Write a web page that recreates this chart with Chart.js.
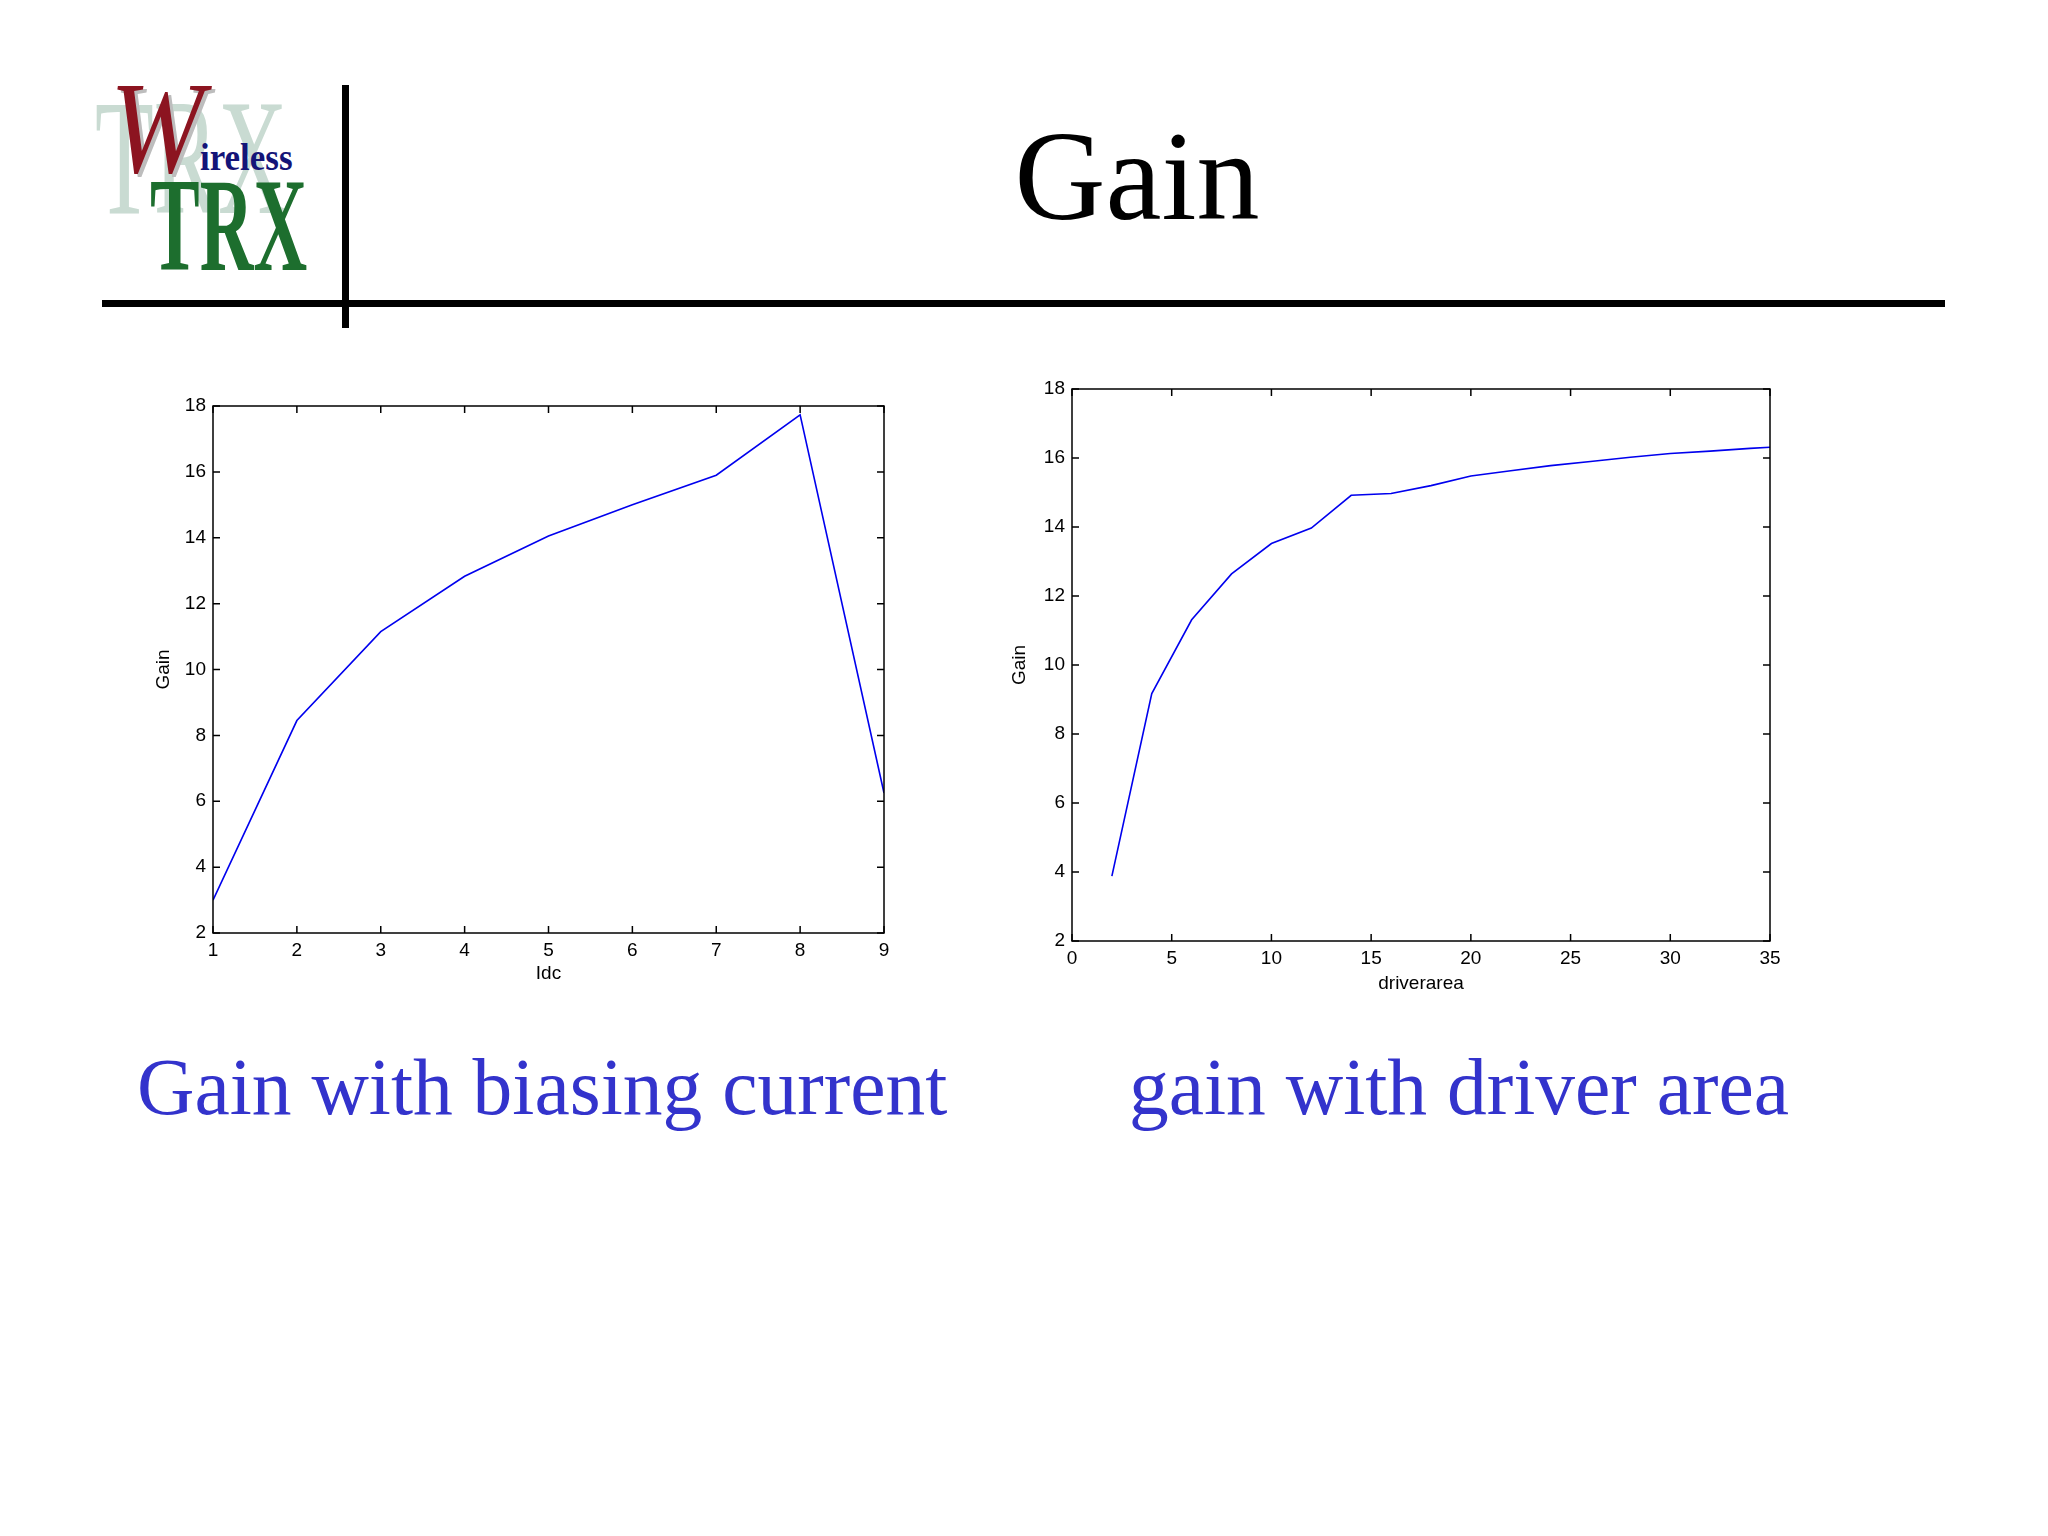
<!DOCTYPE html>
<html>
<head>
<meta charset="utf-8">
<script src="https://cdn.jsdelivr.net/npm/chart.js@4.4.1/dist/chart.umd.min.js"></script>
<style>
  body { margin: 0; background: #fff; }
  #page { position: relative; width: 2048px; height: 1536px; overflow: hidden; background: #fff; }
  .abs { position: absolute; white-space: nowrap; line-height: 1; font-family: "Liberation Serif", "Times New Roman", serif; }
  .bar { position: absolute; background: #000; }
  canvas { position: absolute; }
</style>
</head>
<body>
<div id="page">
  <!-- logo -->
  <div class="abs" style="left:95px;top:74px;font-size:166px;color:#c9dbd2;transform:scaleX(0.58);transform-origin:left top;">TRX</div>
  <div class="abs" style="left:110px;top:62px;font-size:132px;font-style:italic;color:#8c1420;text-shadow:4px 3px 0 #bdbdbd;transform:scaleX(0.85);transform-origin:left top;">W</div>
  <div class="abs" style="left:200px;top:138px;font-size:38px;font-weight:bold;color:#141478;transform:scaleX(0.92);transform-origin:left top;">ireless</div>
  <div class="abs" style="left:150px;top:159px;font-size:133px;font-weight:bold;color:#1d6e2e;transform:scaleX(0.56);transform-origin:left top;">TRX</div>

  <div class="bar" style="left:342px;top:85px;width:7px;height:243px;"></div>
  <div class="bar" style="left:102px;top:300px;width:1843px;height:7px;"></div>

  <div class="abs" style="left:1137px;top:114px;font-size:126px;color:#000;transform:translateX(-50%);">Gain</div>

  <canvas id="idcChart" width="800" height="640" style="left:113px;top:376px;"></canvas>
  <canvas id="areaChart" width="828" height="666" style="left:972px;top:359px;"></canvas>

  <div class="abs" style="left:137px;top:1048px;font-size:79.5px;color:#3333cc;">Gain with biasing current</div>
  <div class="abs" style="left:1129px;top:1048px;font-size:79.5px;color:#3333cc;">gain with driver area</div>
</div>

<script>
const idcValues = [1, 2, 3, 4, 5, 6, 7, 8, 9];
const idcGain = [3.0, 8.45, 11.15, 12.83, 14.05, 15.0, 15.9, 17.73, 6.25];

const areaValues = [2, 4, 6, 8, 10, 12, 14, 16, 18, 20, 22, 24, 26, 28, 30, 32, 34, 35];
const areaGain = [3.88, 9.17, 11.31, 12.64, 13.52, 13.97, 14.92, 14.97, 15.2, 15.48,
  15.63, 15.78, 15.9, 16.02, 16.13, 16.2, 16.28, 16.31];

const gainTicks = { min: 2, max: 18, step: 2 };

const tickFont = { family: "'Liberation Sans', Arial, sans-serif", size: 19 };

// matlab style box with inward ticks on all four sides
const matlabFrame = {
  id: "matlabFrame",
  afterDatasetsDraw(chart) {
    const { ctx, chartArea: a, scales } = chart;
    const len = 7;
    ctx.save();
    ctx.strokeStyle = "#000";
    ctx.lineWidth = 1.5;
    ctx.beginPath();
    scales.x.ticks.forEach((t) => {
      const px = scales.x.getPixelForValue(t.value);
      ctx.moveTo(px, a.bottom);
      ctx.lineTo(px, a.bottom - len);
      ctx.moveTo(px, a.top);
      ctx.lineTo(px, a.top + len);
    });
    scales.y.ticks.forEach((t) => {
      const py = scales.y.getPixelForValue(t.value);
      ctx.moveTo(a.left, py);
      ctx.lineTo(a.left + len, py);
      ctx.moveTo(a.right, py);
      ctx.lineTo(a.right - len, py);
    });
    ctx.stroke();
    ctx.strokeRect(a.left, a.top, a.right - a.left, a.bottom - a.top);
    ctx.restore();
  },
};

function makeGainChart(id, xs, ys, xRange, xTitle, pad) {
  const points = xs.map((x, i) => ({ x: x, y: ys[i] }));
  return new Chart(document.getElementById(id), {
    type: "scatter",
    data: {
      datasets: [
        {
          data: points,
          showLine: true,
          borderColor: "#0000ee",
          borderWidth: 1.6,
          pointRadius: 0,
          tension: 0,
        },
      ],
    },
    options: {
      responsive: false,
      animation: false,
      layout: { padding: pad.layout },
      plugins: { legend: { display: false }, tooltip: { enabled: false } },
      scales: {
        x: {
          type: "linear",
          min: xRange.min,
          max: xRange.max,
          afterFit: (s) => { s.height = pad.xHeight; },
          ticks: {
            stepSize: xRange.step,
            autoSkip: false,
            maxRotation: 0,
            color: "#000",
            font: tickFont,
            padding: 6,
          },
          grid: { display: false, drawTicks: false },
          border: { display: false },
          title: {
            display: true,
            text: xTitle,
            color: "#000",
            font: tickFont,
            padding: { top: 0, bottom: pad.xTitle },
          },
        },
        y: {
          type: "linear",
          min: gainTicks.min,
          max: gainTicks.max,
          afterFit: (s) => { s.width = 100; },
          ticks: {
            stepSize: gainTicks.step,
            color: "#000",
            font: tickFont,
            padding: 7,
          },
          grid: { display: false, drawTicks: false },
          border: { display: false },
          title: {
            display: true,
            text: "Gain",
            color: "#000",
            font: tickFont,
            padding: { top: pad.yTitle, bottom: 0 },
          },
        },
      },
    },
    plugins: [matlabFrame],
  });
}

makeGainChart("idcChart", idcValues, idcGain, { min: 1, max: 9, step: 1 }, "Idc", {
  layout: { top: 30, right: 29, left: 0, bottom: 0 },
  xHeight: 83,
  xTitle: 31,
  yTitle: 39,
});

makeGainChart("areaChart", areaValues, areaGain, { min: 0, max: 35, step: 5 }, "driverarea", {
  layout: { top: 30, right: 30, left: 0, bottom: 0 },
  xHeight: 84,
  xTitle: 30,
  yTitle: 36,
});
</script>
</body>
</html>
